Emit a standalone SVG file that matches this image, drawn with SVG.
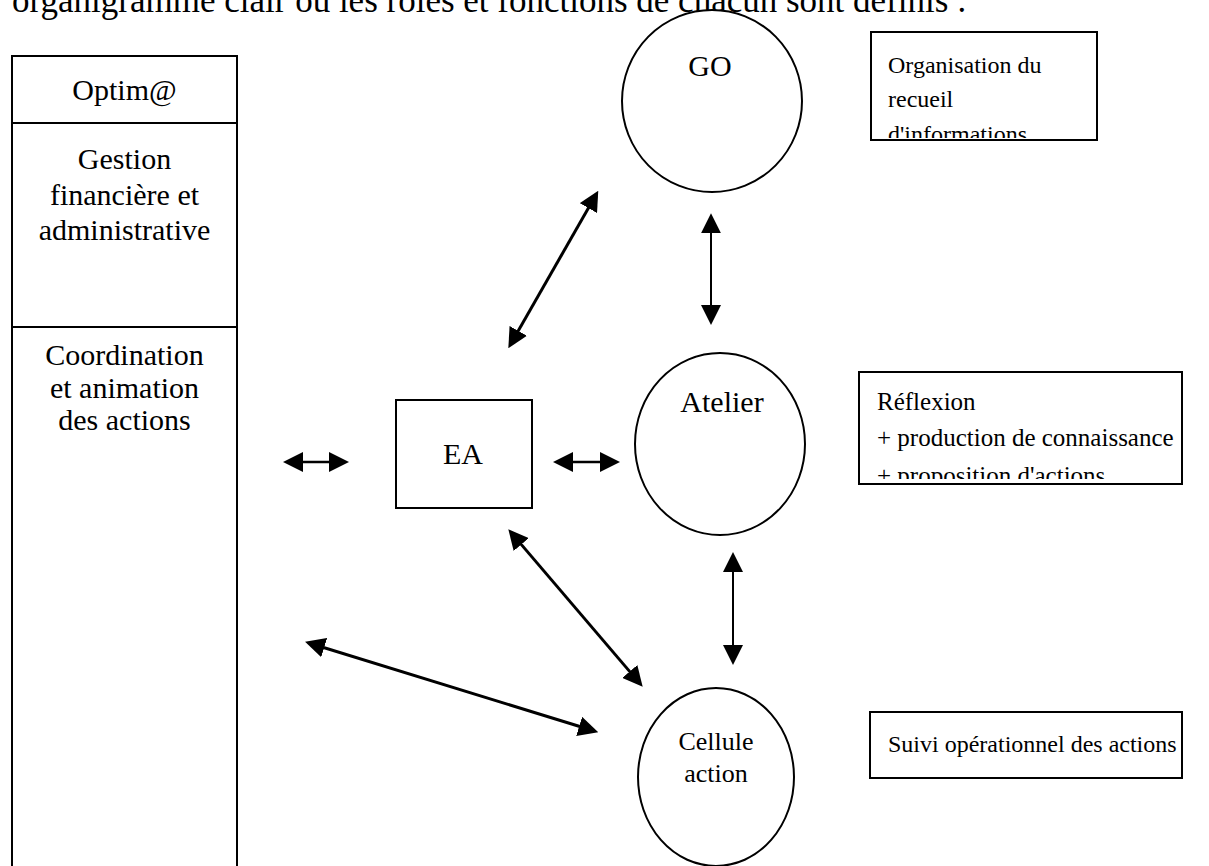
<svg xmlns="http://www.w3.org/2000/svg" width="1209" height="866" viewBox="0 0 1209 866">
<style>
  text { font-family: "Liberation Serif", "Times New Roman", serif; fill: #000; }
  .lbl { font-size: 30px; text-anchor: middle; }
  .cel { font-size: 26px; text-anchor: middle; }
  .note { font-size: 24px; }
  .note25 { font-size: 25px; }
  .box { fill: #fff; stroke: #000; stroke-width: 2; }
  .node { fill: #fff; stroke: #000; stroke-width: 2; }
  .conn line { stroke: #000; fill: none; }
</style>
<defs>
  <marker id="ah" viewBox="0 0 20 20" refX="10" refY="10" markerWidth="20" markerHeight="20" markerUnits="userSpaceOnUse" orient="auto-start-reverse">
    <path d="M0,0 L20,10 L0,20 z" fill="#000"/>
  </marker>
  <clipPath id="clipOrg"><rect x="871" y="32" width="226" height="106"/></clipPath>
  <clipPath id="clipRef"><rect x="859" y="372" width="323" height="107"/></clipPath>
</defs>
<rect x="0" y="0" width="1209" height="866" fill="#fff"/>

<text x="12" y="12" style="font-size:35px">organigramme clair où les rôles et fonctions de chacun sont définis :</text>

<g id="optim">
  <rect class="box" x="12" y="56" width="225" height="830"/>
  <line x1="12" y1="123" x2="237" y2="123" stroke="#000" stroke-width="2"/>
  <line x1="12" y1="327" x2="237" y2="327" stroke="#000" stroke-width="2"/>
  <text class="lbl" x="124.5" y="100">Optim@</text>
  <text class="lbl" x="124.5" y="169">Gestion</text>
  <text class="lbl" x="124.5" y="205">financière et</text>
  <text class="lbl" x="124.5" y="240">administrative</text>
  <text class="lbl" x="124.5" y="365">Coordination</text>
  <text class="lbl" x="124.5" y="398">et animation</text>
  <text class="lbl" x="124.5" y="430">des actions</text>
</g>

<g id="ea">
  <rect class="box" x="396" y="400" width="136" height="108"/>
  <text class="lbl" x="463" y="464">EA</text>
</g>

<g id="go">
  <ellipse class="node" cx="712" cy="101" rx="90" ry="91"/>
  <text class="lbl" x="710" y="76">GO</text>
</g>

<g id="atelier">
  <ellipse class="node" cx="720" cy="444" rx="85" ry="91"/>
  <text class="lbl" x="722" y="412">Atelier</text>
</g>

<g id="cellule">
  <ellipse class="node" cx="716" cy="777" rx="78" ry="89"/>
  <text class="cel" x="716" y="750">Cellule</text>
  <text class="cel" x="716" y="782">action</text>
</g>

<g id="note-go">
  <rect class="box" x="871" y="32" width="226" height="108"/>
  <g clip-path="url(#clipOrg)">
    <text class="note" x="888" y="73">Organisation du</text>
    <text class="note" x="888" y="107">recueil</text>
    <text class="note" x="888" y="142">d'informations</text>
  </g>
</g>

<g id="note-atelier">
  <rect class="box" x="859" y="372" width="323" height="112"/>
  <g clip-path="url(#clipRef)">
    <text class="note25" x="877" y="410">Réflexion</text>
    <text class="note25" x="877" y="446">+ production de connaissance</text>
    <text class="note25" x="877" y="484">+ proposition d'actions</text>
  </g>
</g>

<g id="note-cellule">
  <rect class="box" x="870" y="712" width="312" height="66"/>
  <text class="note" x="888" y="752">Suivi opérationnel des actions</text>
</g>

<g id="connectors" class="conn">
  <line x1="293" y1="462" x2="339" y2="462" stroke-width="2.5" marker-start="url(#ah)" marker-end="url(#ah)"/>
  <line x1="563" y1="462" x2="610" y2="462" stroke-width="2.5" marker-start="url(#ah)" marker-end="url(#ah)"/>
  <line x1="513.3" y1="339.6" x2="593.3" y2="199.4" stroke-width="3" marker-start="url(#ah)" marker-end="url(#ah)"/>
  <line x1="711" y1="223.3" x2="711" y2="315" stroke-width="2" marker-start="url(#ah)" marker-end="url(#ah)"/>
  <line x1="733" y1="562" x2="733" y2="655" stroke-width="2" marker-start="url(#ah)" marker-end="url(#ah)"/>
  <line x1="514.8" y1="536.9" x2="636.2" y2="679.1" stroke-width="3" marker-start="url(#ah)" marker-end="url(#ah)"/>
  <line x1="314.6" y1="644.7" x2="588.7" y2="729.3" stroke-width="3" marker-start="url(#ah)" marker-end="url(#ah)"/>
</g>
</svg>
